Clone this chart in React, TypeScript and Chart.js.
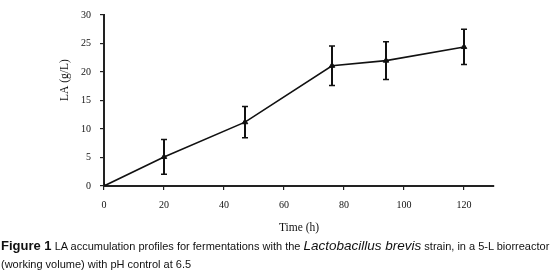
import React, { useEffect, useRef } from "react";
import { Chart, registerables } from "chart.js";

Chart.register(...registerables);

const timeHours = [0, 20, 47, 76, 94, 120];
const laValues = [0, 5.1, 11.2, 21.1, 22.0, 24.4];
const laErrors = [0, 3.05, 2.75, 3.45, 3.3, 3.1];
const xTicks = [0, 20, 40, 60, 80, 100, 120];
const yTicks = [0, 5, 10, 15, 20, 25, 30];
const yTitle = "LA (g/L)";

const errorBarPlugin = {
  id: "errorBars",
  afterDatasetsDraw(chart: any) {
    const { ctx, scales } = chart;
    const xs = scales.x;
    const ys = scales.y;
    ctx.save();
    ctx.strokeStyle = "#111";
    timeHours.forEach((t, i) => {
      const e = laErrors[i];
      if (!e) return;
      const px = xs.getPixelForValue(t);
      const top = ys.getPixelForValue(laValues[i] + e);
      const bot = ys.getPixelForValue(laValues[i] - e);
      ctx.lineWidth = 2;
      ctx.beginPath();
      ctx.moveTo(px, top);
      ctx.lineTo(px, bot);
      ctx.stroke();
      ctx.lineWidth = 1.5;
      ctx.beginPath();
      ctx.moveTo(px - 3, top);
      ctx.lineTo(px + 3, top);
      ctx.moveTo(px - 3, bot);
      ctx.lineTo(px + 3, bot);
      ctx.stroke();
    });
    // y-axis title, placed above the vertical centre as in the original
    ctx.fillStyle = "#111";
    ctx.font = "11.5px 'Liberation Serif'";
    ctx.textAlign = "center";
    ctx.textBaseline = "middle";
    ctx.translate(65, 80);
    ctx.rotate(-Math.PI / 2);
    ctx.fillText(yTitle, 0, 0);
    ctx.restore();
  },
};

function LaChart() {
  const ref = useRef<HTMLCanvasElement | null>(null);
  useEffect(() => {
    if (!ref.current) return;
    const chart = new Chart(ref.current, {
      type: "scatter",
      data: {
        datasets: [
          {
            data: timeHours.map((t, i) => ({ x: t, y: laValues[i] })),
            showLine: true,
            borderColor: "#111",
            backgroundColor: "#111",
            borderWidth: 1.6,
            pointStyle: "triangle",
            pointRadius: 3.2,
            pointBorderWidth: 1,
          },
        ],
      },
      plugins: [errorBarPlugin],
      options: {
        animation: false,
        responsive: false,
        devicePixelRatio: 1,
        layout: { padding: { left: 58, right: 62, top: 9, bottom: 0 } },
        plugins: { legend: { display: false }, tooltip: { enabled: false } },
        scales: {
          x: {
            type: "linear",
            min: 0,
            max: 130,
            afterFit: (s: any) => {
              s.height = 54;
            },
            afterBuildTicks: (s: any) => {
              s.ticks = xTicks.map((v) => ({ value: v }));
            },
            ticks: {
              color: "#111",
              padding: 9,
              font: { family: "Liberation Serif", size: 10 },
            },
            grid: {
              display: true,
              drawOnChartArea: false,
              drawTicks: true,
              tickLength: 4,
              color: "#222",
              lineWidth: 1.2,
            },
            border: { display: true, color: "#222", width: 2 },
            title: {
              display: true,
              text: "Time (h)",
              color: "#111",
              font: { family: "Liberation Serif", size: 11.5 },
              padding: { top: 0, bottom: 5 },
            },
          },
          y: {
            type: "linear",
            min: 0,
            max: 30,
            afterFit: (s: any) => {
              s.width = 46;
            },
            afterBuildTicks: (s: any) => {
              s.ticks = yTicks.map((v) => ({ value: v }));
            },
            ticks: {
              color: "#111",
              padding: 9,
              font: { family: "Liberation Serif", size: 10 },
            },
            grid: {
              display: true,
              drawOnChartArea: false,
              drawTicks: true,
              tickLength: 4,
              color: "#222",
              lineWidth: 1.2,
            },
            border: { display: true, color: "#222", width: 2 },
            title: { display: false },
          },
        },
      },
    });
    return () => chart.destroy();
  }, []);
  return <canvas ref={ref} width={556} height={240} style={{ position: "absolute", left: 0, top: 0 }} />;
}

export default function App() {
  const sans = "'Liberation Sans', Arial, sans-serif";
  const line = {
    position: "absolute" as const,
    left: 1,
    whiteSpace: "nowrap" as const,
    fontFamily: sans,
    fontSize: 11,
    lineHeight: "16px",
    color: "#111",
  };
  return (
    <div style={{ position: "fixed", left: 0, top: 0, width: 556, height: 278, background: "#fff", overflow: "hidden" }}>
      <LaChart />
      <div style={{ ...line, top: 238 }}>
        <b style={{ fontSize: 13 }}>Figure 1</b> LA accumulation profiles for fermentations with the{" "}
        <i style={{ fontSize: 13.5 }}>Lactobacillus brevis</i> strain, in a 5-L biorreactor
      </div>
      <div style={{ ...line, top: 256 }}>(working volume) with pH control at 6.5</div>
    </div>
  );
}
